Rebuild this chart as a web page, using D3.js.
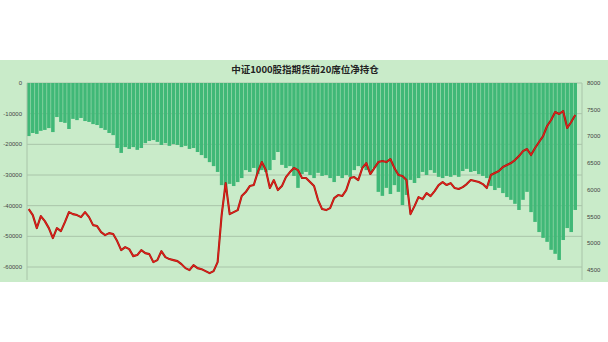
<!DOCTYPE html>
<html>
<head>
<meta charset="utf-8">
<script src="https://cdn.jsdelivr.net/npm/d3@7"></script>
<style>
  body { margin: 0; background: #fff; }
  svg { display: block; }
</style>
</head>
<body>
<div class="chart"></div>
<script>
// net position of top-20 seats (left axis) and index close (right axis)
let netPos = [
  -17300, -16300, -16600, -15600, -15300, -14700, -16000, -11100, -12700, -13000,
  -15000, -11700, -12100, -11400, -12400, -12700, -13400, -13700, -14700, -15300,
  -16300, -17000, -21200, -22800, -20900, -21500, -20900, -21800, -21200, -19600,
  -18900, -18600, -19200, -20200, -19600, -20500, -19900, -20200, -20900, -20500,
  -21500, -21200, -22500, -23500, -24500, -25800, -27100, -29000, -33300, -35500,
  -32900, -33600, -32300, -31000, -28400, -29000, -27700, -29700, -28400, -29000,
  -28400, -25100, -22500, -26700, -27700, -27100, -30300, -34200, -29700, -29000,
  -30000, -31000, -29300, -30300, -30000, -31000, -32300, -30300, -31000, -30000,
  -30600, -28400, -27100, -27700, -28400, -29000, -27700, -35500, -36800, -34200,
  -36200, -33300, -35500, -39800, -36500, -31600, -32600, -31000, -29000, -30000,
  -28400, -29300, -30600, -31000, -30300, -30600, -30000, -30600, -28700, -28000,
  -29000, -28700, -29700, -30300, -31000, -33600, -34900, -34200, -35900, -37200,
  -38100, -39400, -41400, -38100, -35500, -42100, -45300, -48600, -50500, -51800,
  -54400, -55700, -57700, -51200, -47300, -48600, -41400
];

let indexClose = [
  5640, 5528, 5284, 5509, 5415, 5284, 5097, 5284, 5228, 5397,
  5584, 5546, 5528, 5490, 5584, 5490, 5340, 5322, 5209, 5153,
  5190, 5172, 5041, 4872, 4928, 4891, 4760, 4779, 4872, 4816,
  4797, 4647, 4685, 4853, 4741, 4704, 4685, 4666, 4610, 4535,
  4498, 4591, 4535, 4516, 4479, 4441, 4479, 4647, 5528, 6127,
  5546, 5584, 5621, 5884, 5959, 6071, 6090, 6333, 6520, 6370,
  6034, 6183, 5996, 6071, 6239, 6333, 6408, 6370, 6221, 6221,
  6146, 6071, 5809, 5640, 5621, 5659, 5846, 5902, 5884, 5996,
  6221, 6239, 6183, 6408, 6502, 6296, 6408, 6520, 6539, 6520,
  6577, 6408, 6277, 6258, 6183, 5546, 5696, 5865, 5827, 5940,
  5884, 5977, 6090, 6146, 6090, 6127, 6034, 6015, 6052, 6108,
  6183, 6165, 6146, 6108, 6034, 6277, 6315, 6352, 6427, 6464,
  6502, 6558, 6633, 6726, 6764, 6652, 6783, 6895, 7007, 7195,
  7307, 7457, 7420, 7476, 7157, 7270, 7401
];

let leftTicks = [0, -10000, -20000, -30000, -40000, -50000, -60000];
let rightTicks = [8000, 7500, 7000, 6500, 6000, 5500, 5000, 4500];
let title = "中证1000股指期货前20席位净持仓";

let width = 608, height = 342;
let plot = { left: 27, right: 582, top: 83, bottom: 280 };

let svg = d3.select(".chart").append("svg")
  .attr("width", width)
  .attr("height", height);

// chart background
svg.append("rect")
  .attr("x", 0).attr("y", 60)
  .attr("width", width).attr("height", 222)
  .attr("fill", "#c9ebc9");

svg.append("text")
  .attr("x", 305).attr("y", 73)
  .attr("text-anchor", "middle")
  .attr("font-family", "'Noto Sans CJK SC', sans-serif")
  .attr("font-weight", "bold")
  .attr("font-size", 9.5)
  .attr("fill", "#222")
  .text(title);

let x = d3.scaleBand()
  .domain(d3.range(netPos.length))
  .range([plot.left, 577])
  .paddingInner(0.12);

let yL = d3.scaleLinear().domain([-60000, 0]).range([267, 83]);
let yR = d3.scaleLinear().domain([4500, 8000]).range([270, 83]);

// gridlines
svg.selectAll(".grid")
  .data(leftTicks)
  .join("line")
  .attr("class", "grid")
  .attr("x1", plot.left).attr("x2", plot.right)
  .attr("y1", d => yL(d)).attr("y2", d => yL(d))
  .attr("stroke", "#a9c4a9")
  .attr("stroke-width", 1);

// bars
svg.selectAll(".bar")
  .data(netPos)
  .join("rect")
  .attr("class", "bar")
  .attr("x", (d, i) => x(i))
  .attr("width", x.bandwidth())
  .attr("y", yL(0))
  .attr("height", d => yL(d) - yL(0))
  .attr("fill", "#40b877");

// axis lines
svg.append("line")
  .attr("x1", plot.left).attr("x2", plot.left)
  .attr("y1", plot.top).attr("y2", plot.bottom)
  .attr("stroke", "#a9c4a9");
svg.append("line")
  .attr("x1", plot.right).attr("x2", plot.right)
  .attr("y1", plot.top).attr("y2", plot.bottom)
  .attr("stroke", "#a9c4a9");

// red index line
let line = d3.line()
  .x((d, i) => x(i) + x.bandwidth() / 2)
  .y(d => yR(d));

svg.append("path")
  .datum(indexClose)
  .attr("d", line)
  .attr("fill", "none")
  .attr("stroke", "#a01a12")
  .attr("stroke-width", 2.1)
  .attr("stroke-linejoin", "round");
svg.append("path")
  .datum(indexClose)
  .attr("d", line)
  .attr("fill", "none")
  .attr("stroke", "#e0201a")
  .attr("stroke-width", 1.1)
  .attr("stroke-linejoin", "round");

// tick labels
svg.selectAll(".lt")
  .data(leftTicks)
  .join("text")
  .attr("class", "lt")
  .attr("x", 22)
  .attr("y", d => yL(d) + 2)
  .attr("text-anchor", "end")
  .attr("font-family", "'Liberation Sans', sans-serif")
  .attr("font-size", 6)
  .attr("fill", "#444")
  .text(d => d);

svg.selectAll(".rt")
  .data(rightTicks)
  .join("text")
  .attr("class", "rt")
  .attr("x", 587)
  .attr("y", d => yR(d) + 2)
  .attr("font-family", "'Liberation Sans', sans-serif")
  .attr("font-size", 6)
  .attr("fill", "#444")
  .text(d => d);
</script>
</body>
</html>
